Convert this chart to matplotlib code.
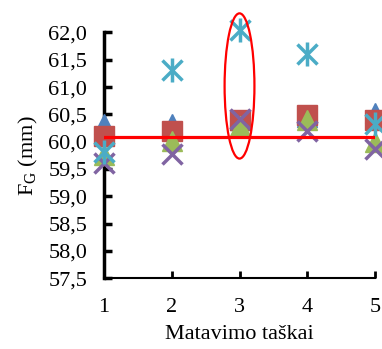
import numpy as np
import matplotlib.pyplot as plt
from matplotlib.patches import Ellipse

points = [1, 2, 3, 4, 5]
s_blue = [60.32, 60.33, 60.40, 60.45, 60.52]
s_red = [60.11, 60.19, 60.39, 60.49, 60.39]
s_green = [59.75, 60.02, 60.28, 60.40, 59.99]
s_purple = [59.60, 59.78, 60.42, 60.19, 59.87]
s_cyan = [59.81, 61.31, 62.04, 61.61, 60.33]
mean_line = [60.09, 60.09]
ytick_vals = [57.5, 58.0, 58.5, 59.0, 59.5, 60.0, 60.5, 61.0, 61.5, 62.0]

plt.rcParams['font.family'] = ['Liberation Serif', 'DejaVu Serif']

fig = plt.figure(figsize=(3.82, 3.49), dpi=100)
ax = fig.add_axes([0.272, 0.203, 0.71, 0.704])

ax.plot(points, s_blue, '^', color='#4F81BD', markersize=14, clip_on=False, zorder=3)
ax.plot(points, s_red, 's', color='#C0504D', markersize=14, clip_on=False, zorder=3)
ax.plot(points, s_green, '^', color='#9BBB59', markersize=14, clip_on=False, zorder=3)
ax.plot(points, s_purple, 'x', color='#8064A2', markersize=14, markeredgewidth=2.5,
        clip_on=False, zorder=3)
ax.plot(points, s_cyan, 'x', color='#4BACC6', markersize=14, markeredgewidth=2.5,
        clip_on=False, zorder=3)
ax.plot(points, s_cyan, '|', color='#4BACC6', markersize=17, markeredgewidth=2.5,
        clip_on=False, zorder=3)

ax.plot([points[0], points[-1]], mean_line, color='red', linewidth=2.3, zorder=4)
ax.add_patch(Ellipse((3, 61.02), 0.44, 2.66, fill=False, edgecolor='red',
                     linewidth=1.6, zorder=5, clip_on=False))

ax.set_xlim(1, 5)
ax.set_ylim(57.5, 62.0)
ax.set_xticks(points)
ax.set_yticks(ytick_vals)
ax.set_yticklabels([f'{v:.1f}'.replace('.', ',') for v in ytick_vals])
ax.spines['top'].set_visible(False)
ax.spines['right'].set_visible(False)
ax.spines['left'].set_linewidth(2.5)
ax.spines['bottom'].set_linewidth(1.5)
ax.tick_params(axis='y', direction='in', length=6, width=2.5, labelsize=16, pad=12)
ax.tick_params(axis='x', direction='in', length=5, width=2, labelsize=16, pad=14)

ax.set_xlabel('Matavimo taškai', fontsize=16, labelpad=6)
ax.set_ylabel('F$_\\mathregular{G}$ (mm)', fontsize=16, labelpad=6)

fig.savefig('out.png', dpi=100)
